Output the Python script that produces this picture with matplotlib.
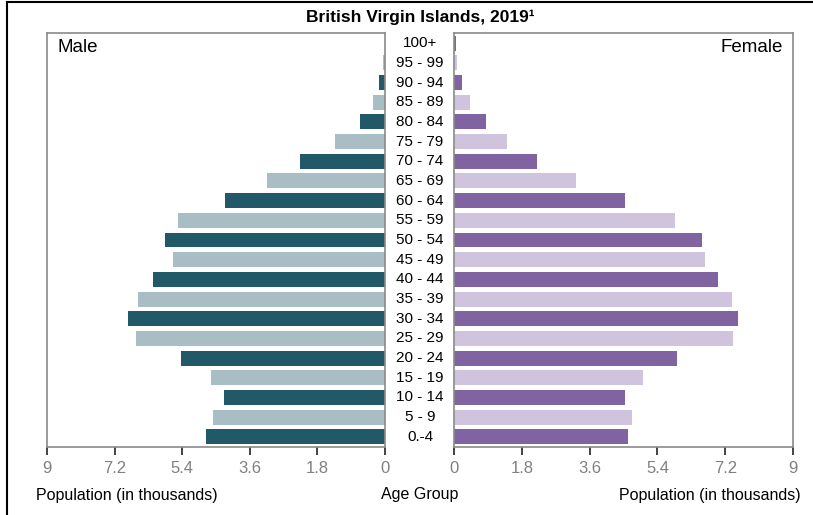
import matplotlib.pyplot as plt
from matplotlib import transforms
from matplotlib.lines import Line2D

plt.rcParams['font.family'] = ['Liberation Sans', 'DejaVu Sans']

age_groups = ["0.-4", "5 - 9", "10 - 14", "15 - 19", "20 - 24", "25 - 29", "30 - 34",
              "35 - 39", "40 - 44", "45 - 49", "50 - 54", "55 - 59", "60 - 64",
              "65 - 69", "70 - 74", "75 - 79", "80 - 84", "85 - 89", "90 - 94",
              "95 - 99", "100+"]
male = [4.77, 4.59, 4.29, 4.64, 5.44, 6.64, 6.85, 6.59, 6.19, 5.65, 5.87, 5.52,
        4.27, 3.15, 2.27, 1.33, 0.67, 0.32, 0.16, 0.05, 0.01]
female = [4.62, 4.73, 4.54, 5.02, 5.92, 7.41, 7.55, 7.39, 7.01, 6.67, 6.59, 5.87,
          4.54, 3.24, 2.20, 1.40, 0.84, 0.42, 0.20, 0.07, 0.04]
ticks = [0, 1.8, 3.6, 5.4, 7.2, 9]

male_colors = ["#225968", "#a9bdc4"]
female_colors = ["#8064a1", "#d0c3de"]

fig = plt.figure(figsize=(8.13, 5.15), dpi=100)
ax_m = fig.add_axes([47 / 813, 1 - 447 / 515, 338 / 813, 414 / 515])
ax_f = fig.add_axes([454 / 813, 1 - 447 / 515, 339 / 813, 414 / 515])

y = list(range(len(age_groups)))
ax_m.barh(y, male, height=0.76, color=[male_colors[i % 2] for i in y])
ax_f.barh(y, female, height=0.76, color=[female_colors[i % 2] for i in y])

ax_m.set_xlim(9, 0)
ax_f.set_xlim(0, 9)
for ax in (ax_m, ax_f):
    ax.set_ylim(-0.52, 20.52)
    ax.set_yticks([])
    ax.set_xticks(ticks)
    ax.set_xticklabels([f"{t:g}" for t in ticks])
    ax.tick_params(axis='x', length=6, width=1.2, color='#222222', labelcolor='#808080',
                   labelsize=12, pad=4)
    for s in ax.spines.values():
        s.set_color('#8a8a8a')
        s.set_linewidth(1.2)
    ax.set_xlabel("Population (in thousands)", fontsize=11.5, labelpad=4)

ax_m.xaxis.set_label_coords(0.237, -0.1)
ax_f.xaxis.set_label_coords(0.755, -0.1)

ax_m.text(0.03, 0.985, "Male", transform=ax_m.transAxes, ha='left', va='top', fontsize=13.5)
ax_f.text(0.97, 0.985, "Female", transform=ax_f.transAxes, ha='right', va='top', fontsize=13.5)

# age group labels between the two panels
trans = transforms.blended_transform_factory(fig.transFigure, ax_m.transData)
for i, lab in enumerate(age_groups):
    fig.text(420 / 813, i, lab, transform=trans, ha='center', va='center', fontsize=11)
fig.text(420 / 813, 1 - 495 / 515, "Age Group", ha='center', va='center', fontsize=11.5)

fig.text(420 / 813, 1 - 17 / 515, "British Virgin Islands, 2019\u00b9", ha='center',
         va='center', fontsize=12.5, fontweight='bold')

# outer frame lines (top and left only visible)
fig.add_artist(Line2D([7 / 813, 1], [1 - 2 / 515, 1 - 2 / 515], transform=fig.transFigure,
                      color='black', lw=1.5))
fig.add_artist(Line2D([7 / 813, 7 / 813], [0, 1 - 2 / 515], transform=fig.transFigure,
                      color='black', lw=1.5))

fig.savefig("out.png", dpi=100)
